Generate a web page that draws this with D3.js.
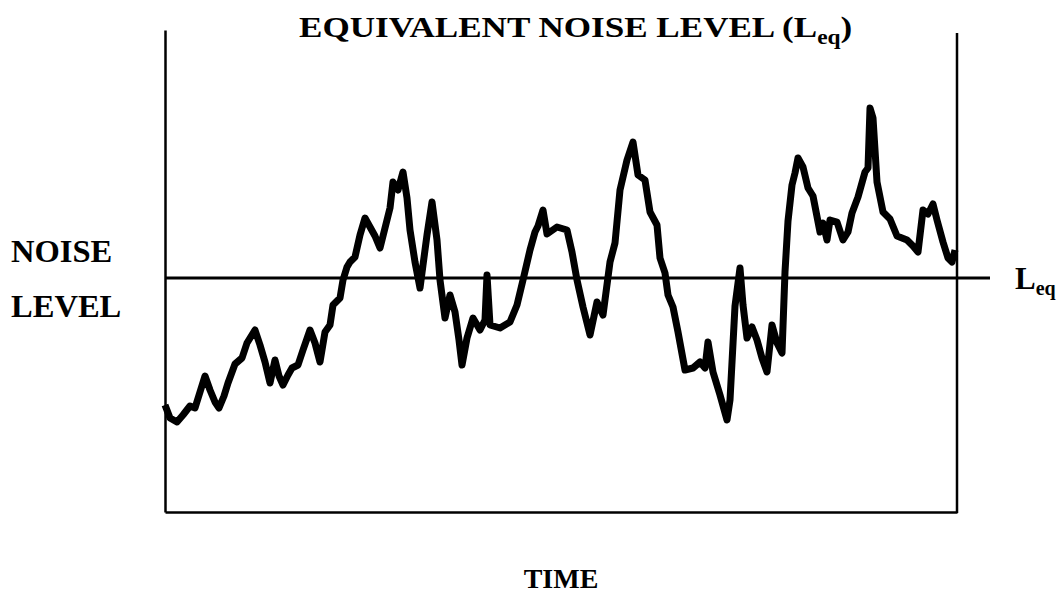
<!DOCTYPE html>
<html>
<head>
<meta charset="utf-8">
<script src="https://cdn.jsdelivr.net/npm/d3@7"></script>
<style>
  html, body { margin: 0; padding: 0; background: #fff; }
  svg { display: block; }
</style>
</head>
<body>
<svg id="chart" width="1060" height="595"></svg>
<script>
// ---- data (time index, noise level in arbitrary units) ----
const timeValues = [0,5,12,18,25,30,35,40,45,50,54,59,63,70,77,82,90,95,100,105,110,114,118,123,127,133,138,145,150,155,160,165,168,175,178,182,185,190,195,200,205,210,215,220,225,228,233,238,242,245,250,255,258,262,267,272,275,280,285,290,294,297,302,308,315,320,322,325,335,345,352,358,365,370,373,378,382,392,402,407,412,418,425,432,438,445,450,455,462,468,473,480,485,492,495,500,503,508,513,520,528,535,540,543,548,555,562,565,570,575,578,582,587,592,597,602,607,612,617,620,623,627,630,633,638,643,648,655,658,662,665,672,678,683,687,693,700,703,705,708,712,718,725,732,742,748,753,758,763,768,772,778,783,787,790];
const levelValues = [53.5,47,45,48.5,53,52,60,68,61,55,52,58,64.5,74,77,84.5,91,83.5,75,64.5,76,68,63.5,68.5,72,73.5,81,91,84.5,75,90,93.5,103.5,107,116,122.5,125,127.5,138.5,147,142.5,138,132,142,152,165,161,170,157,141,125,112,123.5,138.5,155,136,116,97,108.5,100,86,73.5,87,97,91,96,118.5,93.5,92,95,103.5,116,131,140,143,151,139,142.5,141,130,116,102.5,88.5,105,98.5,125,134.5,161,176,185,168.5,166,150,143.5,127,119.5,108.5,102.5,90,71,72,75,72,85,70,58.5,46,56,103,122,103.5,87,92.5,86,77,70,93.5,84.5,79.5,120,145.5,163.5,169.5,177,172.5,162,158,140,144.5,136,146,145,136,140,149.5,157.5,170,172,202,197,165,150,146.5,138,136,133,130,151,149,154,146,135,127,125,131];
const leqValue = 117;
const timeDomain = [0, 792];
const levelDomain = [0, 241];
const titleMain = "EQUIVALENT NOISE LEVEL (L";
const titleSub = "eq";
const yLabelLines = ["NOISE", "LEVEL"];
const xLabel = "TIME";
const leqLabel = "L";
const leqSub = "eq";

const FONT = "'Liberation Serif', 'Times New Roman', 'DejaVu Serif', serif";
const svg = d3.select("#chart");
const x = d3.scaleLinear().domain(timeDomain).range([165, 957]);
const y = d3.scaleLinear().domain(levelDomain).range([512, 30]);

const data = timeValues.map((t, i) => ({ t, v: levelValues[i] }));

// frame: left axis, bottom axis, right line (open top)
svg.append("g")
  .attr("transform", `translate(${x(timeDomain[0])},0)`)
  .call(d3.axisLeft(y).tickValues([]).tickSizeOuter(0))
  .call(g => g.select(".domain").attr("stroke", "#000").attr("stroke-width", 2.5));
svg.append("g")
  .attr("transform", `translate(0,${y(levelDomain[0])})`)
  .call(d3.axisBottom(x).tickValues([]).tickSizeOuter(0))
  .call(g => g.select(".domain").attr("stroke", "#000").attr("stroke-width", 2.5));
svg.append("line")
  .attr("x1", x(timeDomain[1])).attr("x2", x(timeDomain[1]))
  .attr("y1", y(levelDomain[0]) + 1).attr("y2", y(levelDomain[1]) + 3)
  .attr("stroke", "#000").attr("stroke-width", 2.5);

// Leq line
svg.append("line")
  .attr("x1", x(timeDomain[0])).attr("x2", x(timeDomain[1]) + 33)
  .attr("y1", y(leqValue)).attr("y2", y(leqValue))
  .attr("stroke", "#000").attr("stroke-width", 3);

// noise trace
const line = d3.line().x(d => x(d.t)).y(d => y(d.v)).curve(d3.curveLinear);
svg.append("path")
  .datum(data)
  .attr("d", line)
  .attr("fill", "none")
  .attr("stroke", "#000")
  .attr("stroke-width", 7)
  .attr("stroke-linejoin", "round");

function txt(sel) {
  return sel.attr("font-family", FONT).attr("font-weight", "bold").attr("fill", "#000");
}

// title
const title = txt(svg.append("text"))
  .attr("transform", "translate(299,37) scale(1.17,1)")
  .attr("font-size", 30);
title.append("tspan").text(titleMain);
title.append("tspan").attr("font-size", 20).attr("dy", 7).text(titleSub);
title.append("tspan").attr("dy", -7).text(")");

// y label
txt(svg.selectAll(".ylab").data(yLabelLines).enter().append("text"))
  .attr("class", "ylab")
  .attr("transform", (d, i) => `translate(11,${262 + i * 55}) scale(1.05,1)`)
  .attr("font-size", 31)
  .text(d => d);

// Leq label
const leq = txt(svg.append("text"))
  .attr("x", 1015).attr("y", 289)
  .attr("font-size", 31);
leq.append("tspan").text(leqLabel);
leq.append("tspan").attr("font-size", 20).attr("dy", 6).text(leqSub);

// x label
txt(svg.append("text"))
  .attr("x", 561).attr("y", 588)
  .attr("text-anchor", "middle")
  .attr("font-size", 28)
  .text(xLabel);
</script>
</body>
</html>
